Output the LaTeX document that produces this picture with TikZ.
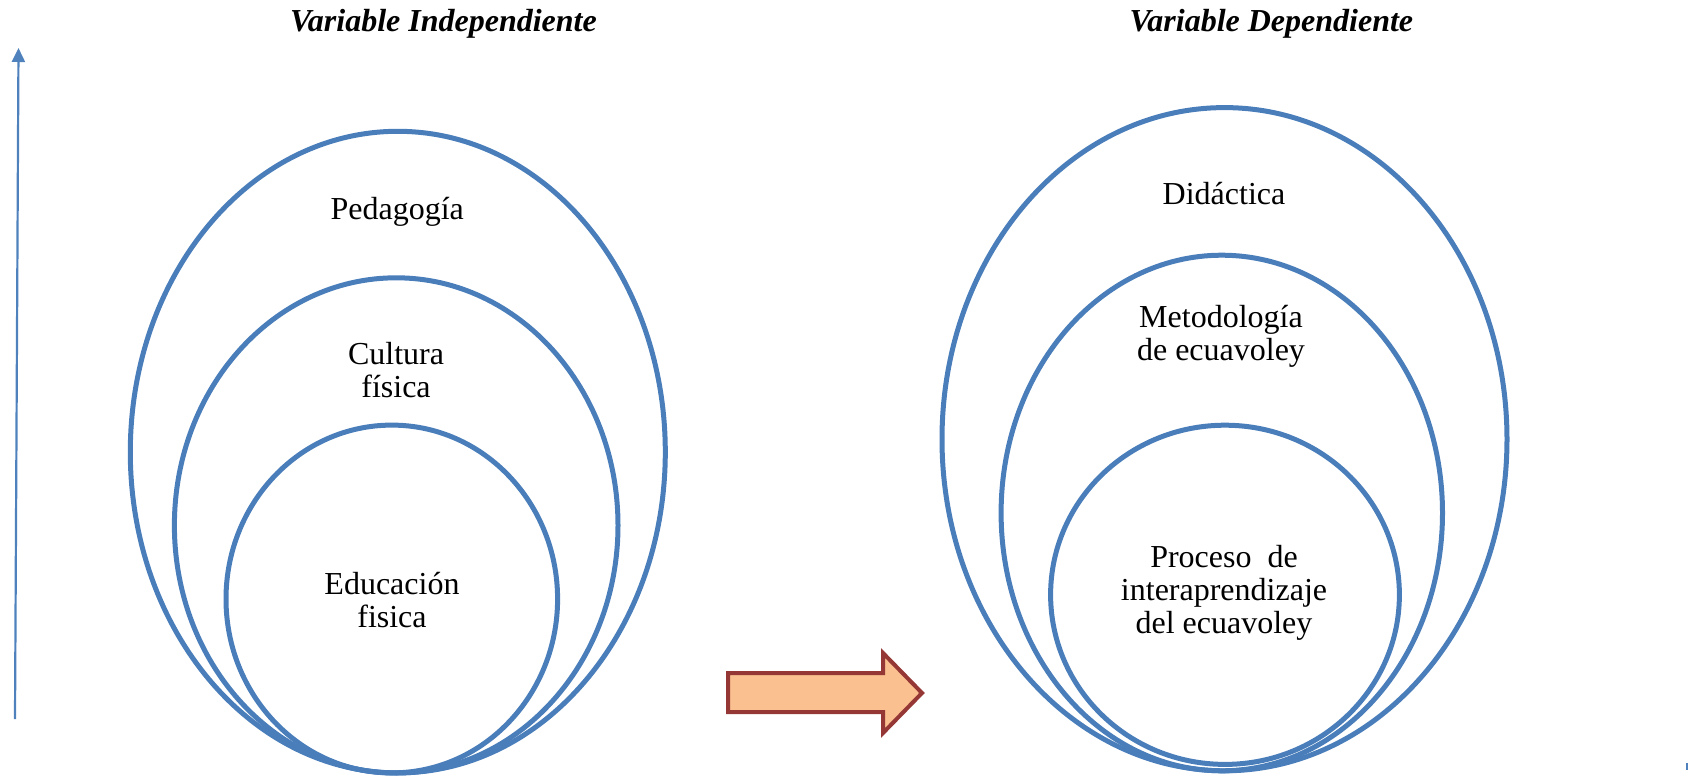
\documentclass[tikz,border=0pt]{standalone}
\usepackage{fontspec}
\setmainfont{Liberation Serif}
\usetikzlibrary{arrows.meta}
\definecolor{ringblue}{HTML}{4A7EBB}
\definecolor{axisblue}{HTML}{4F81BD}
\definecolor{arrowfill}{HTML}{FAC090}
\definecolor{arrowedge}{HTML}{953735}
\begin{document}
\begin{tikzpicture}[x=0.5pt,y=-0.5pt,
  ring/.style={draw=ringblue,line width=2.5pt},
  label/.style={align=center,inner sep=0pt,font=\fontsize{16}{16.5}\selectfont},
  title/.style={inner sep=0pt,font=\fontsize{16}{16.5}\selectfont\bfseries\itshape}]
\useasboundingbox (0,0) rectangle (1688,781);

% titles
\node[title] (tind) at (443.5,24) {Variable Independiente};
\node[title] (tdep) at (1271.4,24) {Variable Dependiente};

% vertical axis arrow
\coordinate (axbot) at (15,719);
\coordinate (axtop) at (18.5,48);
\draw[axisblue,line width=1.1pt,-{Triangle[width=6.5pt,length=7pt]}] (axbot) -- (axtop);

% independent variable rings
\draw[ring] (397.8,452.1) ellipse [x radius=133.75pt, y radius=160.4pt];
\draw[ring] (396.2,525.4) ellipse [x radius=110.9pt, y radius=123.8pt];
\draw[ring] (391.8,599) ellipse [x radius=82.9pt, y radius=86.95pt];
\node[label] (ped) at (397.2,212) {Pedagogía};
\node[label] (cul) at (396,370) {Cultura\\física};
\node[label] (edu) at (392,600) {Educación\\fisica};

% dependent variable rings
\draw[ring] (1224.5,439.2) ellipse [x radius=141.25pt, y radius=165.8pt];
\draw[ring] (1221.8,513) ellipse [x radius=110.35pt, y radius=128.9pt];
\draw[ring] (1225,594.8) ellipse [x radius=87.2pt, y radius=84.8pt];
\node[label] (did) at (1224,194) {Didáctica};
\node[label] (met) at (1221,336) {Metodología\\de ecuavoley};
\node[label] (pro) at (1224,593) {Proceso~ de\\interaprendizaje\\del ecuavoley};

% block arrow between the two groups
\draw[draw=arrowedge,fill=arrowfill,line width=2pt,line join=miter]
  (728,673) -- (883,673) -- (883,653) -- (922,693) -- (883,733) -- (883,712) -- (728,712) -- cycle;

% small stub at the lower right edge
\draw[axisblue,line width=1pt] (1687,763) -- (1687,770);
\end{tikzpicture}
\end{document}
